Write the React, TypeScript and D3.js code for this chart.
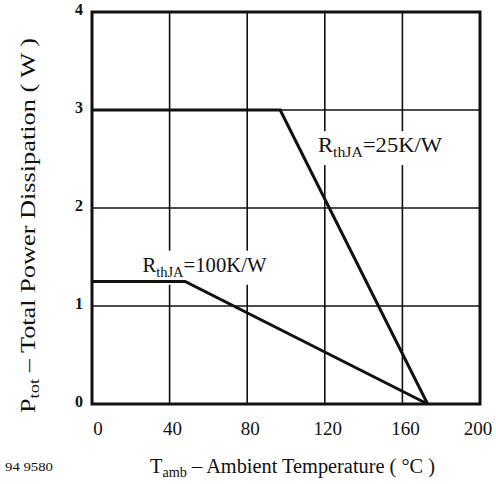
import React, { useEffect, useRef } from "react";
import * as d3 from "d3";

const xTicks = [0, 40, 80, 120, 160, 200];
const yTicks = [0, 1, 2, 3, 4];

// derating curves: [temperature °C, power W]
const curve25 = [
  [0, 3],
  [97, 3],
  [173, 0],
];
const curve100 = [
  [0, 1.25],
  [48, 1.25],
  [173, 0],
];

const labels = [
  { main: "R", sub: "thJA", rest: "=25K/W", t: 116.5, p: 2.57 },
  { main: "R", sub: "thJA", rest: "=100K/W", t: 26, p: 1.35 },
];

const App: React.FC = () => {
  const ref = useRef<SVGSVGElement | null>(null);

  useEffect(() => {
    const svg = d3.select(ref.current);
    svg.selectAll("*").remove();

    const width = 496;
    const height = 484;
    const margin = { top: 12, right: 16, bottom: 80, left: 92 };
    const font = "'Liberation Serif', 'Times New Roman', serif";

    const x = d3
      .scaleLinear()
      .domain([0, 200])
      .range([margin.left, width - margin.right]);
    const y = d3
      .scaleLinear()
      .domain([0, 4])
      .range([height - margin.bottom, margin.top]);

    svg.append("rect").attr("width", width).attr("height", height).attr("fill", "#fff");

    // grid
    const g = svg.append("g").attr("stroke", "#111").attr("stroke-width", 1.6);
    g.selectAll(".vx")
      .data(xTicks.slice(1, -1))
      .enter()
      .append("line")
      .attr("x1", (d) => x(d))
      .attr("x2", (d) => x(d))
      .attr("y1", y(0))
      .attr("y2", y(4));
    g.selectAll(".hy")
      .data(yTicks.slice(1, -1))
      .enter()
      .append("line")
      .attr("x1", x(0))
      .attr("x2", x(200))
      .attr("y1", (d) => y(d))
      .attr("y2", (d) => y(d));

    // curve labels, with white boxes breaking the grid
    const lab = svg.append("g").attr("font-family", font).attr("fill", "#111");
    labels.forEach((l) => {
      const t = lab
        .append("text")
        .attr("x", x(l.t))
        .attr("y", y(l.p))
        .attr("font-size", 20)
        .attr("textLength", 124)
        .attr("lengthAdjust", "spacingAndGlyphs");
      t.append("tspan").text(l.main);
      t.append("tspan").attr("font-size", 14).attr("dy", 5).text(l.sub);
      t.append("tspan").attr("dy", -5).text(l.rest);
      const bb = (t.node() as SVGTextElement).getBBox();
      lab
        .insert("rect", "text")
        .attr("x", bb.x - 4)
        .attr("y", bb.y - 3)
        .attr("width", bb.width + 8)
        .attr("height", bb.height + 8)
        .attr("fill", "#fff");
    });

    // frame
    svg
      .append("rect")
      .attr("x", x(0))
      .attr("y", y(4))
      .attr("width", x(200) - x(0))
      .attr("height", y(0) - y(4))
      .attr("fill", "none")
      .attr("stroke", "#111")
      .attr("stroke-width", 3);

    const line = d3
      .line<number[]>()
      .x((d) => x(d[0]))
      .y((d) => y(d[1]));

    [curve25, curve100].forEach((c) => {
      svg
        .append("path")
        .datum(c)
        .attr("d", line)
        .attr("fill", "none")
        .attr("stroke", "#111")
        .attr("stroke-width", 3)
        .attr("stroke-linejoin", "miter");
    });

    // tick labels
    const tl = svg.append("g").attr("font-family", font).attr("fill", "#111");
    tl.selectAll(".xt")
      .data(xTicks)
      .enter()
      .append("text")
      .attr("x", (d) => x(d) + (d === 0 ? 6 : d === 200 ? -2 : 3))
      .attr("y", y(0) + 31)
      .attr("text-anchor", "middle")
      .attr("font-size", 19)
      .text((d) => d);
    tl.selectAll(".yt")
      .data(yTicks)
      .enter()
      .append("text")
      .attr("x", x(0) - 13)
      .attr("y", (d) => y(d) + 3)
      .attr("text-anchor", "middle")
      .attr("font-size", 16)
      .attr("font-weight", "bold")
      .text((d) => d);

    // axis titles
    const xt = tl
      .append("text")
      .attr("x", 150)
      .attr("y", 473)
      .attr("font-size", 20)
      .attr("textLength", 285)
      .attr("lengthAdjust", "spacingAndGlyphs");
    xt.append("tspan").text("T");
    xt.append("tspan").attr("font-size", 14).attr("dy", 4).text("amb");
    xt.append("tspan").attr("dy", -4).text(" – Ambient Temperature ( °C )");

    const yt = tl
      .append("text")
      .attr("transform", "translate(35,413) rotate(-90)")
      .attr("font-size", 20)
      .attr("textLength", 375)
      .attr("lengthAdjust", "spacingAndGlyphs");
    yt.append("tspan").text("P");
    yt.append("tspan").attr("font-size", 14).attr("dy", 4).text("tot");
    yt.append("tspan").attr("dy", -4).text(" – Total Power Dissipation ( W )");

    tl.append("text")
      .attr("x", 5)
      .attr("y", 471)
      .attr("font-size", 13.5)
      .attr("textLength", 48)
      .attr("lengthAdjust", "spacingAndGlyphs")
      .text("94 9580");
  }, []);

  return (
    <svg
      ref={ref}
      width={496}
      height={484}
      style={{ position: "absolute", left: 0, top: 0 }}
    ></svg>
  );
};

export default App;
